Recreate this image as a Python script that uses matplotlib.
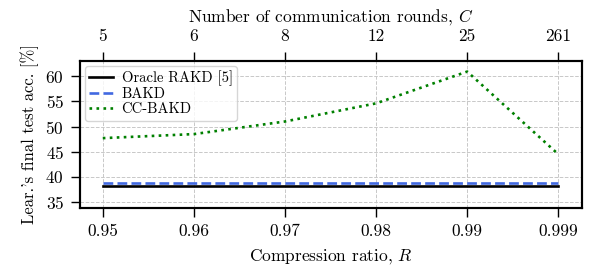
import matplotlib
matplotlib.use("Agg")
import matplotlib.pyplot as plt
import numpy as np

# data
ratios = ["0.95", "0.96", "0.97", "0.98", "0.99", "0.999"]
rounds = ["5", "6", "8", "12", "25", "261"]
oracle_rakd = [38.2, 38.2, 38.2, 38.2, 38.2, 38.2]
bakd = [38.8, 38.8, 38.8, 38.8, 38.8, 38.8]
cc_bakd = [47.7, 48.5, 51.0, 54.6, 60.9, 44.5]

plt.rcParams['font.family'] = ['cmr10', 'DejaVu Serif']
plt.rcParams['mathtext.fontset'] = 'cm'
plt.rcParams['axes.formatter.use_mathtext'] = True
plt.rcParams['font.size'] = 12

fig = plt.figure(figsize=(5.94, 2.71), dpi=100)
ax = fig.add_axes([80/594, 1 - 207.7/271, 502/594, (207.7 - 61)/271])

x = np.arange(len(ratios))
ax.plot(x, oracle_rakd, color='black', lw=1.9, ls='-', label='Oracle RAKD [5]')
ax.plot(x, bakd, color='royalblue', lw=1.9, ls='--', label='BAKD')
ax.plot(x, cc_bakd, color='green', lw=1.9, ls=':', label='CC-BAKD')

ax.set_xlim(-0.25, 5.26)
ax.set_ylim(33.9, 63.0)
ax.set_xticks(x)
ax.set_xticklabels(ratios)
ax.set_yticks([35, 40, 45, 50, 55, 60])
ax.set_xlabel('Compression ratio, $R$', fontsize=12.5, labelpad=6)
ax.set_ylabel("Lear.'s final test acc. [%]", fontsize=12, labelpad=5)
ax.grid(True, ls='--', color='#c8c8c8', lw=0.7)
ax.tick_params(direction='out', length=6.5, width=1, pad=5, labelsize=12.5)
for s in ax.spines.values():
    s.set_linewidth(1.5)

top = ax.twiny()
top.set_xlim(ax.get_xlim())
top.set_xticks(x)
top.set_xticklabels(rounds)
top.set_xlabel('Number of communication rounds, $C$', fontsize=12.5, labelpad=5)
top.tick_params(direction='out', length=6.5, width=1, pad=6, labelsize=12.5)
for s in top.spines.values():
    s.set_linewidth(1.5)

ax.legend(loc='upper left', fontsize=10.5, frameon=True, framealpha=0.8,
          edgecolor='#cccccc', fancybox=True, borderpad=0.3, labelspacing=0.1,
          handlelength=1.6, handletextpad=0.6, borderaxespad=0.35)

fig.savefig('out.png', dpi=100)
